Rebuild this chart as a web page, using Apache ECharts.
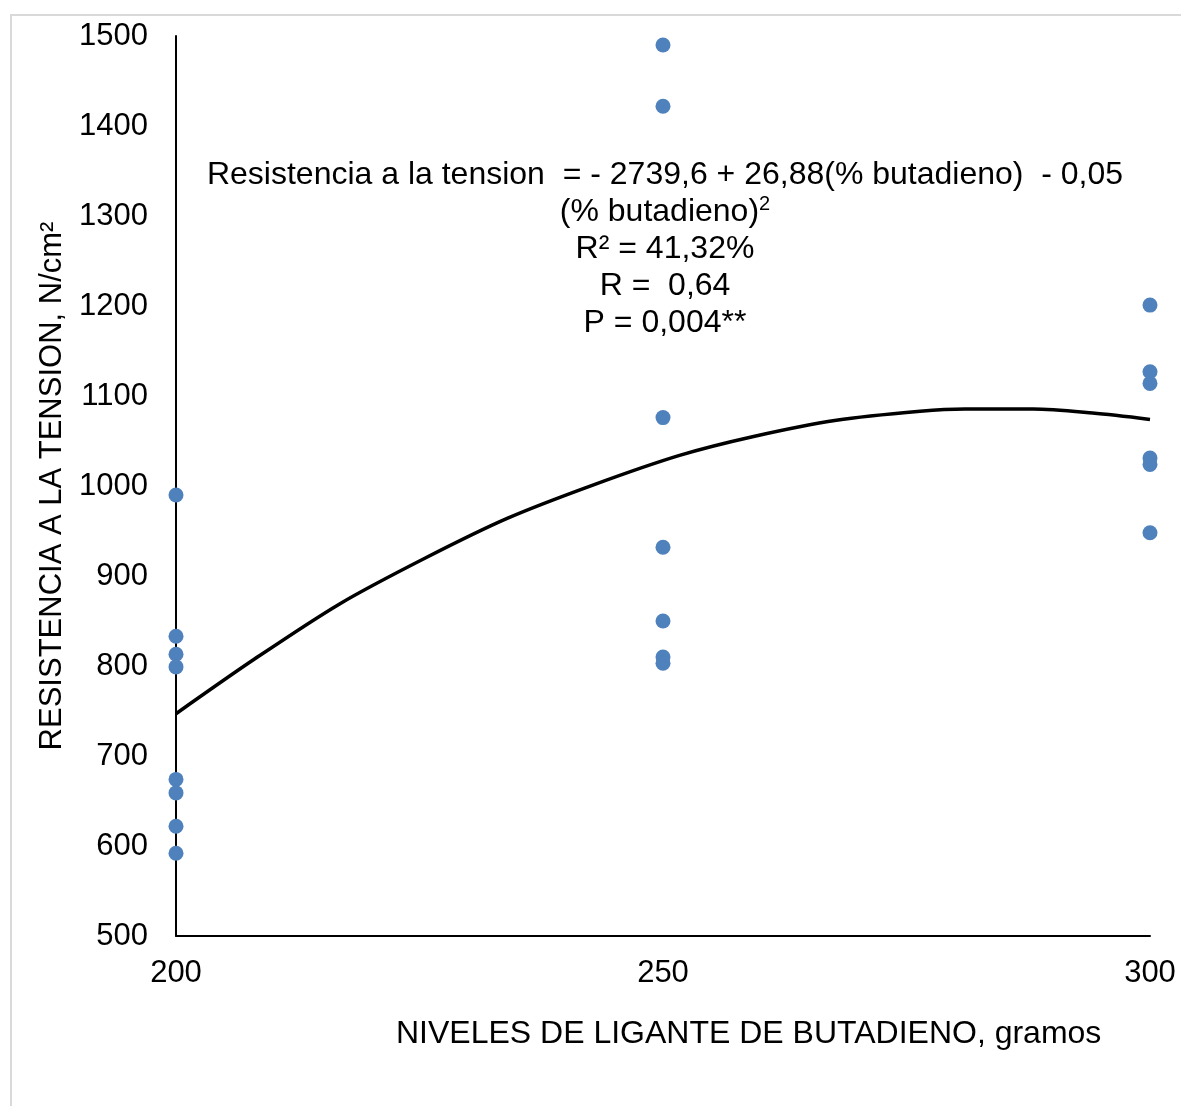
<!DOCTYPE html>
<html>
<head>
<meta charset="utf-8">
<script src="https://cdn.jsdelivr.net/npm/echarts@6/dist/echarts.min.js"></script>
<style>
    html, body { margin: 0; padding: 0; background: #fff; }
    #chart { width: 1181px; height: 1106px; }
</style>
</head>
<body>
<div id="chart"></div>
<script>
const niveles = [200, 200, 200, 200, 200, 200, 200, 200,
                 250, 250, 250, 250, 250, 250, 250,
                 300, 300, 300, 300, 300, 300]
const resistencia = [990, 833, 813, 799, 674, 659, 622, 592,
                     1490, 1422, 1076, 932, 850, 810, 803,
                     1201, 1127, 1114, 1031, 1024, 948]

// fitted curve, points
const curvaX = [200, 208.1, 216.8, 225.6, 234.0, 242.8, 251.7, 259.3, 267.8, 276.4, 281.0, 288.0, 294.1, 300]
const curvaY = [747, 808, 869, 920, 964, 1001, 1034, 1055, 1073, 1083, 1085.5, 1085.5, 1081, 1074]

const yTicks = [500, 1500, 100]
const xTicks = [200, 300, 50]

const font = '"Liberation Sans", Arial, sans-serif'

let chart = echarts.init(document.getElementById('chart'))

let options = {
    animation: false,
    textStyle: { fontFamily: font },
    grid: { left: 176, top: 36, right: 31, bottom: 170 },
    xAxis: {
        type: 'value',
        min: xTicks[0], max: xTicks[1], interval: xTicks[2],
        splitLine: { show: false },
        axisTick: { show: false },
        axisLine: { show: true, lineStyle: { color: '#000', width: 2 } },
        axisLabel: { color: '#000', fontSize: 31, margin: 22, fontFamily: font, formatter: v => String(v) }
    },
    yAxis: {
        type: 'value',
        min: yTicks[0], max: yTicks[1], interval: yTicks[2],
        splitLine: { show: false },
        axisTick: { show: false },
        axisLine: { show: true, lineStyle: { color: '#000', width: 2 } },
        axisLabel: { color: '#000', fontSize: 31, margin: 28, fontFamily: font, formatter: v => String(v) },
        name: 'RESISTENCIA A LA TENSION, N/cm²',
        nameLocation: 'middle',
        nameGap: 108,
        nameTextStyle: { color: '#000', fontSize: 31, fontFamily: font }
    },
    series: [
        {
            type: 'line',
            data: curvaX.map((x, i) => [x, curvaY[i]]),
            smooth: 0.3,
            symbol: 'none',
            lineStyle: { color: '#000', width: 3.5 },
            z: 2
        },
        {
            type: 'scatter',
            data: niveles.map((x, i) => [x, resistencia[i]]),
            symbolSize: 15,
            itemStyle: { color: '#4f81bd', opacity: 1 },
            z: 3
        }
    ],
    graphic: [
        {
            type: 'rect',
            shape: { x: 11, y: 15, width: 1200, height: 1200 },
            style: { fill: 'none', stroke: '#d9d9d9', lineWidth: 2 },
            silent: true
        },
        {
            type: 'text',
            x: 665,
            y: 157,
            style: {
                text: 'Resistencia a la tension  = - 2739,6 + 26,88(% butadieno)  - 0,05\n(% butadieno){sup|2}\nR² = 41,32%\nR =  0,64\nP = 0,004**',
                textAlign: 'center',
                fill: '#000',
                font: '32px ' + font,
                lineHeight: 37,
                rich: {
                    sup: { fontSize: 20, verticalAlign: 'top', lineHeight: 37, fontFamily: font, fill: '#000' }
                }
            }
        },
        {
            type: 'text',
            x: 396,
            y: 1018,
            style: {
                text: 'NIVELES DE LIGANTE DE BUTADIENO, gramos',
                fill: '#000',
                font: '32px ' + font
            }
        }
    ]
}
chart.setOption(options)
</script>
</body>
</html>
